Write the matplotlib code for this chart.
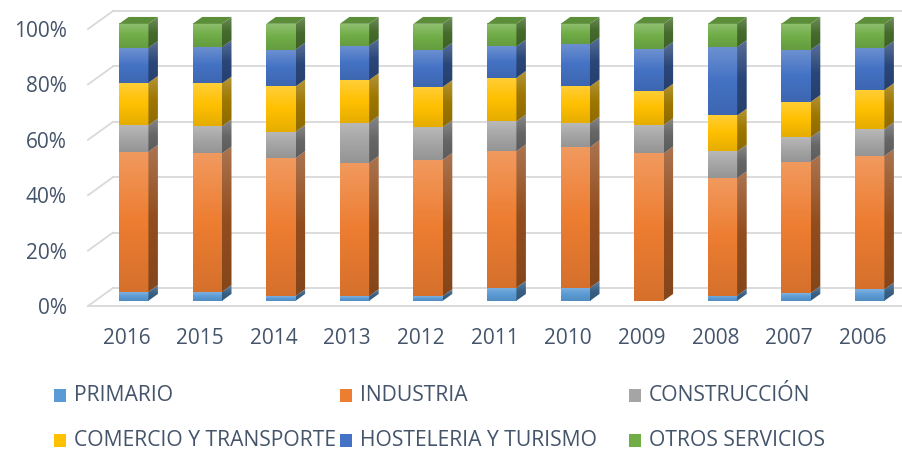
import numpy as np
import matplotlib
matplotlib.use("Agg")
import matplotlib.pyplot as plt
from matplotlib.patches import Rectangle, Polygon
from matplotlib.colors import to_rgb

plt.rcParams['font.family'] = ['Open Sans', 'DejaVu Sans']

# data (shares in %)
years = ['2016', '2015', '2014', '2013', '2012', '2011', '2010', '2009', '2008', '2007', '2006']
primario = [3.2, 3.2, 1.7, 1.7, 1.7, 4.7, 4.7, 0.0, 1.9, 2.8, 4.1]
industria = [50.6, 50.0, 49.8, 48.1, 49.2, 49.3, 50.8, 53.2, 42.4, 47.4, 48.2]
construccion = [9.6, 9.8, 9.5, 14.5, 11.8, 10.8, 8.5, 10.2, 9.6, 8.8, 9.7]
comercio = [15.3, 15.5, 16.4, 15.4, 14.5, 15.7, 13.4, 12.5, 13.0, 12.8, 14.1]
hosteleria = [12.6, 13.1, 13.3, 12.4, 13.5, 11.3, 15.2, 15.1, 24.7, 18.8, 15.2]
otros = [8.7, 8.4, 9.3, 7.9, 9.3, 8.2, 7.4, 9.0, 8.4, 9.4, 8.7]

series = ['PRIMARIO', 'INDUSTRIA', 'CONSTRUCCIÓN',
          'COMERCIO Y TRANSPORTE', 'HOSTELERIA Y TURISMO', 'OTROS SERVICIOS']
colors = ['#5B9BD5', '#ED7D31', '#A5A5A5', '#FFC000', '#4472C4', '#70AD47']
values = np.array([primario, industria, construccion, comercio, hosteleria, otros])
yticks = [0, 20, 40, 60, 80, 100]

TEXT = '#44546A'
GRID = '#D9D9D9'

# pseudo-3D geometry (pixels per unit, depth of the floor)
PXX, PXY = 73.6, 2.77
DX, DY = 25 / PXX, 18 / PXY          # full floor depth in data units
d0, d1 = 0.29, 0.67                  # bar depth span
hw = 14.65 / PXX                     # half width of a bar front

W, H = 903, 451
fig = plt.figure(figsize=(W / 100, H / 100), dpi=100)
ax = fig.add_axes([0, 0, 1, 1])
ax.axis('off')
xl = (0 - 126.5) / PXX
xr = (W - 126.5) / PXX
yb = (306 - H) / PXY
yt = 306 / PXY

# normalise to 100 %
pct = values / values.sum(axis=0) * 100
x = np.arange(len(years))

# walls and gridlines
x_wall = (88 - 126.5) / PXX
for v in yticks:
    ax.plot([x_wall + DX, xr + 1], [v + DY, v + DY], color=GRID, lw=1.3, zorder=0)
    ax.plot([x_wall, x_wall + DX], [v, v + DY], color=GRID, lw=1.3, zorder=0)
    ax.text(x_wall - 21.5 / PXX, v - 0.9, f'{v}%', ha='right', va='center',
            fontsize=15, color=TEXT)
ax.plot([x_wall, xr + 1], [0, 0], color=GRID, lw=1.3, zorder=0)


def shade(c, f):
    r = np.array(to_rgb(c))
    return tuple(np.clip(r * f, 0, 1))


def light(c, f):
    r = np.array(to_rgb(c))
    return tuple(r + (1 - r) * f)


def gradient(c, n=64):
    t = np.linspace(0, 1, n)[:, None]  # 0 bottom -> 1 top
    top = np.array(light(c, 0.22))
    mid = np.array(to_rgb(c))
    bot = np.array(shade(c, 0.9))
    g = np.where(t > 0.5, mid + (top - mid) * (t - 0.5) * 2, bot + (mid - bot) * t * 2)
    return g[:, None, :]


ox0, oy0 = d0 * DX, d0 * DY
ox1, oy1 = d1 * DX, d1 * DY
for i, xi in enumerate(x):
    bottom = 0.0
    for s in range(len(series)):
        h = pct[s, i]
        if h <= 0:
            continue
        c = colors[s]
        top = bottom + h
        fx0, fx1 = xi - hw + ox0, xi + hw + ox0
        # front face
        ax.imshow(gradient(c), extent=[fx0, fx1, bottom + oy0, top + oy0],
                  origin='lower', aspect='auto', interpolation='bilinear', zorder=3)
        # side face
        side = Polygon([(fx1, bottom + oy0), (xi + hw + ox1, bottom + oy1),
                        (xi + hw + ox1, top + oy1), (fx1, top + oy0)],
                       closed=True, facecolor='none', edgecolor='none')
        ax.add_patch(side)
        im = ax.imshow(gradient(shade(c, 0.62)),
                       extent=[fx1, xi + hw + ox1, bottom + oy0, top + oy1],
                       origin='lower', aspect='auto', interpolation='bilinear', zorder=3)
        im.set_clip_path(side)
        if s == len(series) - 1:
            ax.add_patch(Polygon([(fx0, top + oy0), (fx1, top + oy0),
                                  (xi + hw + ox1, top + oy1), (xi - hw + ox1, top + oy1)],
                                 closed=True, facecolor=shade(c, 0.82),
                                 edgecolor='none', zorder=3))
        bottom = top
    ax.text(xi, (306 - 338) / PXY, years[i], ha='center', va='center',
            fontsize=15, color=TEXT)

ax.set_xlim(xl, xr)
ax.set_ylim(yb, yt)

# legend
leg_x = [54, 340, 629]
leg_y = [395.5, 440]
for k, name in enumerate(series):
    px = leg_x[k % 3]
    py = leg_y[k // 3]
    fig.patches.append(Rectangle(((px) / W, 1 - (py + 6.5) / H), 12 / W, 13 / H,
                                 transform=fig.transFigure, facecolor=colors[k],
                                 edgecolor='none'))
    fig.text((px + 20) / W, 1 - py / H, name, ha='left', va='center',
             fontsize=15.2, color=TEXT)

fig.savefig('out.png', dpi=100)
